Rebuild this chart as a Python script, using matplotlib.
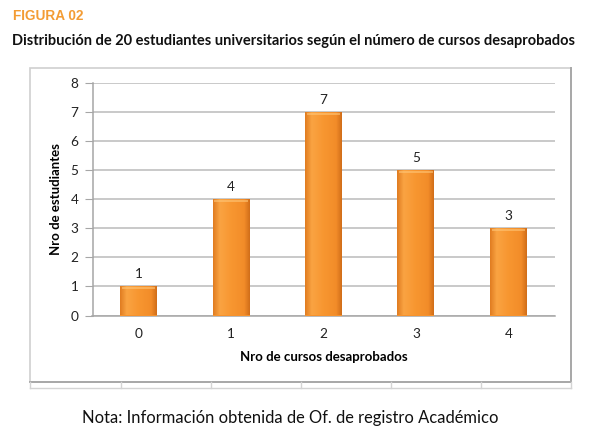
import matplotlib
matplotlib.use("Agg")
import matplotlib.pyplot as plt
import numpy as np
from matplotlib.patches import Rectangle, FancyBboxPatch
from matplotlib.lines import Line2D

categories = ["0", "1", "2", "3", "4"]
values = [1, 4, 7, 5, 3]
y_ticks = [0, 1, 2, 3, 4, 5, 6, 7, 8]

fig_title = "FIGURA 02"
chart_title = "Distribución de 20 estudiantes universitarios según el número de cursos desaprobados"
x_label = "Nro de cursos desaprobados"
y_label = "Nro de estudiantes"
note = "Nota: Información obtenida de Of. de registro Académico"

W, H = 590, 444
fig = plt.figure(figsize=(W / 100, H / 100), dpi=100)
fig.patch.set_facecolor("white")

def fx(px):
    return px / W

def fy(py):
    return 1 - py / H

font = ["Lato", "DejaVu Sans"]

# outer chart box
fig.add_artist(Rectangle((fx(30.5), fy(381.5)), fx(571) - fx(30.5), fy(68) - fy(381.5),
                         transform=fig.transFigure, facecolor="white",
                         edgecolor="#CFCFCF", lw=1.2, zorder=0))
# darker shadow on bottom and right edges
fig.add_artist(Line2D([fx(30.5), fx(571), fx(571)], [fy(381.5), fy(381.5), fy(68)],
                      transform=fig.transFigure, color="#A8A8A8", lw=1.4))
# spreadsheet cell lines under the chart
fig.add_artist(Line2D([fx(30.5), fx(571)], [fy(388), fy(388)], transform=fig.transFigure,
                      color="#D4D4D4", lw=1.0))
for xp in [30.5, 120.5, 210.5, 301, 391, 481, 571]:
    fig.add_artist(Line2D([fx(xp), fx(xp)], [fy(382), fy(388)], transform=fig.transFigure,
                          color="#D4D4D4", lw=1.0))

ax = fig.add_axes([fx(92.5), fy(315.5), fx(554.5) - fx(92.5), fy(83) - fy(315.5)])
ax.set_facecolor("none")
x = np.arange(len(categories))
bars = ax.bar(x, values, width=0.4, color="#F7922B", edgecolor="none", zorder=3)

# horizontal gradient for a bevelled look
cols = np.array([
    [0.88, 0.49, 0.13],
    [0.98, 0.64, 0.26],
    [0.97, 0.59, 0.19],
    [0.95, 0.55, 0.16],
    [0.82, 0.43, 0.10],
])
pos = np.array([0.0, 0.18, 0.5, 0.85, 1.0])
t = np.linspace(0, 1, 64)
grad = np.stack([np.interp(t, pos, cols[:, i]) for i in range(3)], axis=-1)[None, :, :]
for b in bars:
    x0, w, h = b.get_x(), b.get_width(), b.get_height()
    im = ax.imshow(grad, extent=[x0, x0 + w, 0, h], aspect="auto", zorder=4,
                   interpolation="bilinear")
    im.set_clip_path(b)
    # top highlight cap
    ax.add_patch(Rectangle((x0 + w * 0.05, h - 0.09), w * 0.9, 0.07,
                           facecolor="#FFC677", edgecolor="none", alpha=0.6, zorder=5))
    ax.text(x0 + w / 2, h + 0.22, f"{h:g}", ha="center", va="bottom",
            fontsize=9.8, family=font, color="#222222")

ax.set_xlim(-0.5, len(categories) - 0.5)
ax.set_ylim(0, 8)
ax.set_yticks(y_ticks)
ax.set_xticks(x)
ax.set_xticklabels(categories)
ax.yaxis.grid(True, color="#C0C0C0", lw=1.2, zorder=0)
ax.set_axisbelow(True)
for s in ["top", "right"]:
    ax.spines[s].set_visible(False)
ax.spines["left"].set_color("#A6A6A6")
ax.spines["bottom"].set_color("#A6A6A6")
ax.spines["left"].set_linewidth(1.1)
ax.spines["bottom"].set_linewidth(1.1)
ax.tick_params(axis="y", length=6, color="#A6A6A6", labelsize=9.8, pad=4)
ax.tick_params(axis="x", length=0, labelsize=9.8, pad=9)
for lab in ax.get_xticklabels() + ax.get_yticklabels():
    lab.set_family(font)
    lab.set_color("#222222")

ax.set_xlabel(x_label, fontsize=9.5, family=font, fontweight="bold", labelpad=8)
ax.set_ylabel(y_label, fontsize=9.5, family=font, fontweight="bold", labelpad=6)

fig.text(fx(13), fy(15.5), fig_title, ha="left", va="center", fontsize=9.8,
         family=["Liberation Sans", "DejaVu Sans"], fontweight="bold", color="#F39C34")
fig.text(fx(12), fy(41), chart_title, ha="left", va="center", fontsize=10.5,
         family=font, fontweight="bold", color="#111111")
fig.text(fx(290), fy(418), note, ha="center", va="center", fontsize=11.9,
         family=font, color="#111111")

fig.savefig("out.png", dpi=100, facecolor="white")
